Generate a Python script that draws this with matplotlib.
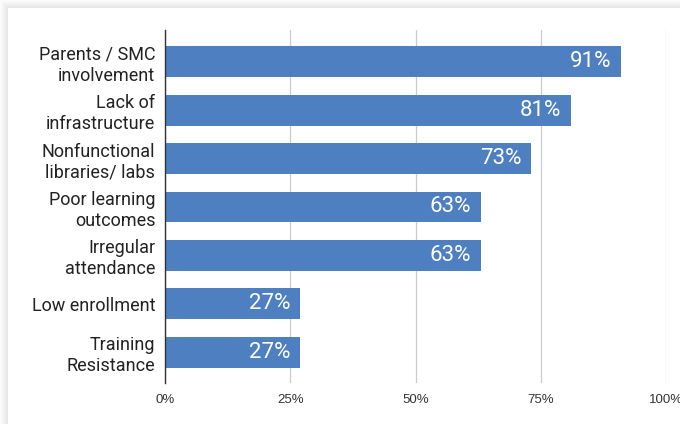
import matplotlib.pyplot as plt
from matplotlib.patches import Rectangle

plt.rcParams['font.family'] = ['Roboto', 'DejaVu Sans']

categories = ['Parents / SMC\ninvolvement', 'Lack of\ninfrastructure',
              'Nonfunctional\nlibraries/ labs', 'Poor learning\noutcomes',
              'Irregular\nattendance', 'Low enrollment', 'Training\nResistance']
values = [91, 81, 73, 63, 63, 27, 27]
ticks = [0, 25, 50, 75, 100]
tick_labels = ['0%', '25%', '50%', '75%', '100%']

W, H = 680, 424
fig = plt.figure(figsize=(W / 100, H / 100), dpi=100)
fig.patch.set_facecolor('white')

# soft shadow along the left and top edges of the card
for i in range(8):
    a = 0.012 + 0.012 * i
    fig.patches.append(Rectangle(((i) / W, 0), 1 / W, 1 - (i) / H,
                                 transform=fig.transFigure, color='black',
                                 alpha=a, lw=0))
    fig.patches.append(Rectangle(((i + 1) / W, 1 - (i + 1) / H), 1, 1 / H,
                                 transform=fig.transFigure, color='black',
                                 alpha=a, lw=0))

x0, x1 = 165, 666
y0, y1 = 30, 383
ax = fig.add_axes([x0 / W, 1 - y1 / H, (x1 - x0) / W, (y1 - y0) / H])

ypos = list(range(len(categories)))
ax.barh(ypos, values, height=0.64, color='#4e7fc0', zorder=3)
for y, v in zip(ypos, values):
    ax.text(v - 1.9, y, f'{v}%', ha='right', va='center', color='white',
            fontsize=16, zorder=4)

ax.set_xlim(0, 100)
ax.set_ylim(len(categories) - 0.36, -0.66)
ax.set_yticks(ypos)
ax.set_yticklabels(categories, fontsize=13, color='#222222', linespacing=1.2)
ax.set_xticks(ticks)
ax.set_xticklabels(tick_labels, fontsize=9.5, color='#333333',
                   family='Liberation Sans')
ax.tick_params(axis='y', length=0, pad=7)
ax.tick_params(axis='x', length=0, pad=8)

ax.grid(axis='x', color='#cccccc', lw=0.9, zorder=0)
for s in ['top', 'right', 'bottom']:
    ax.spines[s].set_visible(False)
ax.spines['left'].set_color('#333333')
ax.spines['left'].set_linewidth(1.0)
ax.spines['left'].set_zorder(5)

fig.savefig('out.png', dpi=100)
